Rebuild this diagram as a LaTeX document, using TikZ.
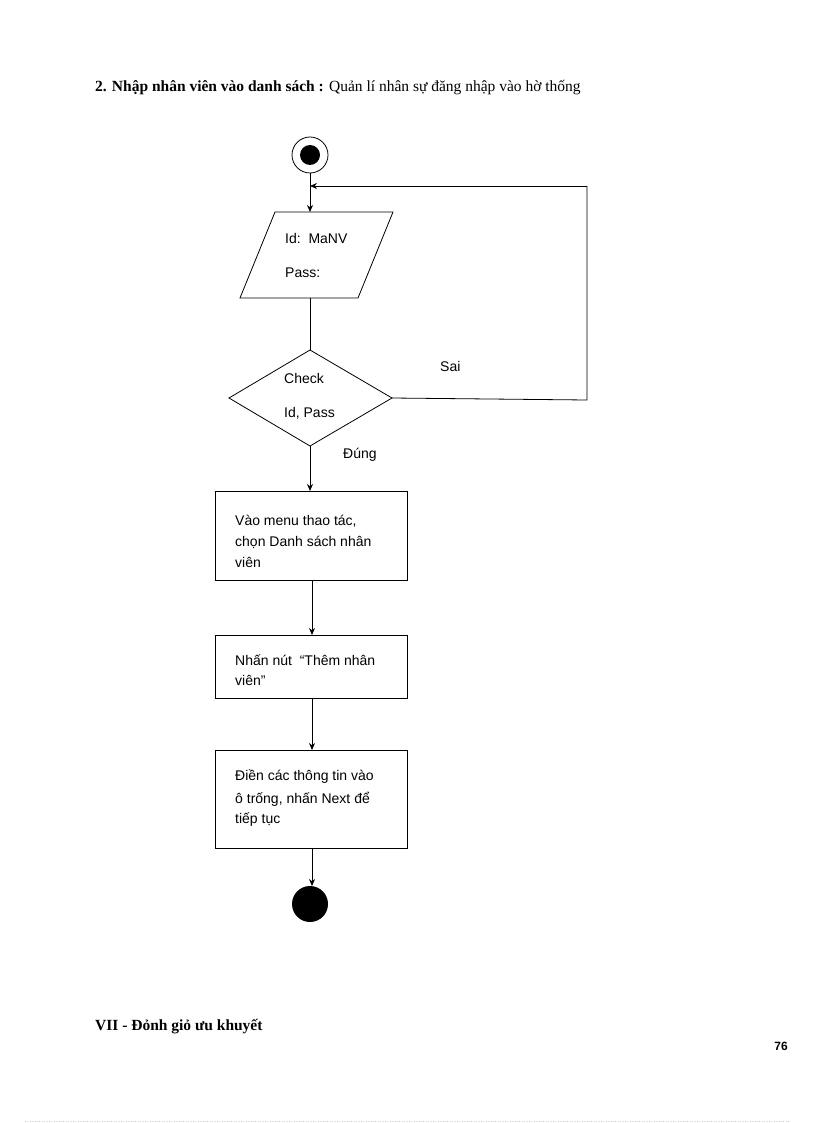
\documentclass[tikz,border=0pt]{standalone}
\usepackage{fontspec}
\setmainfont{Liberation Serif}
\newfontfamily\ds{Liberation Sans}
\usetikzlibrary{arrows.meta}
\begin{document}
\begin{tikzpicture}[x=1pt,y=-1pt,
  ln/.style={draw=black,line width=0.8pt},
  ar/.style={ln,-{Stealth[length=7pt,width=6pt]}},
  tx/.style={font=\ds\fontsize{14}{16}\selectfont,anchor=west,inner sep=0pt},
  bx/.style={ln}]
\useasboundingbox (0,0) rectangle (816,1123);
\node[anchor=west,inner sep=0pt,font=\fontsize{15.5}{18}\selectfont] (title) at (95,88) {\textbf{2. Nhập nhân\ viên vào danh\ sách :} Quản lí nhân sự đăng nhập vào hờ thống};
% start
\draw[ln] (310,155) circle (18);
\fill (310,155) circle (10);
\coordinate (s) at (310,173);
% parallelogram
\draw[ln] (275,212) -- (393,212) -- (358,298) -- (240,298) -- cycle;
\coordinate (pt) at (310,212); \coordinate (pb) at (310,298);
\node[tx] (id) at (285,238) {Id:\ \ MaNV};
\node[tx] (ps) at (285,273) {Pass:};
% diamond
\draw[ln] (310,350) -- (392,398) -- (310,446) -- (229,398) -- cycle;
\coordinate (dt) at (310,350); \coordinate (dr) at (392,398); \coordinate (db) at (310,446);
\node[tx] (ck) at (284,378) {Check};
\node[tx] (ip) at (284,413) {Id, Pass};
\node[tx] (sai) at (440,366) {Sai};
\node[tx] (dung) at (343,455) {Đúng};
% loop
\coordinate (l1) at (587,400); \coordinate (l2) at (587,186); \coordinate (l3) at (310,186);
\draw[ln] (dr) -- (l1) -- (l2);
\draw[ar] (l2) -- (l3);
\draw[ar] (s) -- (pt);
\draw[ln] (pb) -- (dt);
% boxes
\draw[bx] (215,491) rectangle (407,580);
\node[tx] (b1a) at (235,521) {Vào menu thao tác,};
\node[tx] (b1b) at (235,542) {chọn Danh sách nhân};
\node[tx] (b1c) at (235,562) {viên};
\draw[bx] (215,635) rectangle (407,698);
\node[tx] (b2a) at (235,660) {Nhấn nút\ \ “Thêm nhân};
\node[tx] (b2b) at (235,680) {viên”};
\draw[bx] (215,750) rectangle (407,848);
\node[tx] (b3a) at (235,777) {Điền các thông tin vào};
\node[tx] (b3b) at (235,799) {ô trống, nhấn Next để};
\node[tx] (b3c) at (235,820) {tiếp tục};
\draw[ar] (db) -- (310,491);
\draw[ar] (312,580) -- (312,635);
\draw[ar] (312,698) -- (312,750);
\draw[ar] (312,848) -- (312,886);
\fill (310,904) circle (18);
\node[anchor=west,inner sep=0pt,font=\bfseries\fontsize{15.5}{18}\selectfont] (vii) at (95,1027) {VII - Đỏnh giỏ ưu khuyết};
\node[anchor=east,inner sep=0pt,font=\ds\bfseries\fontsize{12}{14}\selectfont] (pg) at (788,1046) {76};
\draw[gray!40,dotted] (25,1121) -- (790,1121);
\end{tikzpicture}
\end{document}
